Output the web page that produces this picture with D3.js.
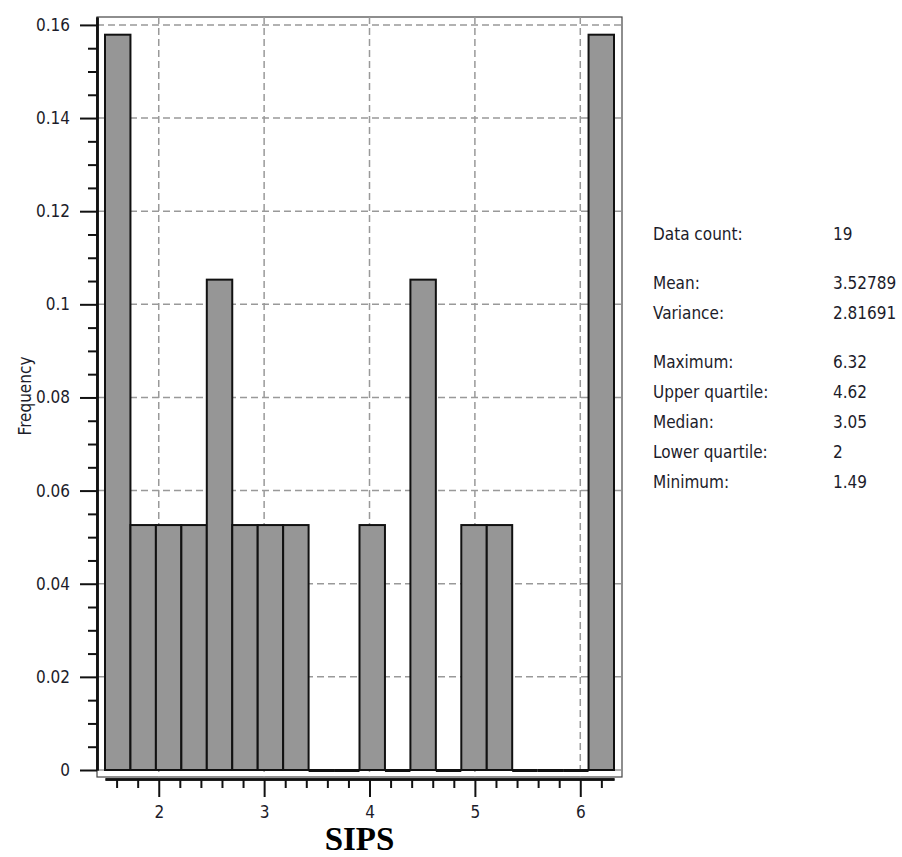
<!DOCTYPE html>
<html>
<head>
<meta charset="utf-8">
<script src="https://cdn.jsdelivr.net/npm/d3@7"></script>
<style>
  body { margin: 0; background: #fff; }
  .chart text { font-family: "DejaVu Sans Condensed", "DejaVu Sans", sans-serif; font-stretch: condensed; fill: #1c1c2a; }
  .axis path, .axis line { stroke: #111; }
</style>
</head>
<body>
<div class="chart"></div>
<script>
'use strict';
// Histogram data: 20 bins between min and max
var dataMin = 1.49;
var dataMax = 6.32;
var binCount = 20;
var frequencies = [0.1579, 0.0526, 0.0526, 0.0526, 0.1053, 0.0526, 0.0526, 0.0526, 0, 0,
                   0.0526, 0, 0.1053, 0, 0.0526, 0.0526, 0, 0, 0, 0.1579];

// Axis ticks
var xTicks = [2, 3, 4, 5, 6];
var xMinorTicks = [1.6, 1.8, 2.2, 2.4, 2.6, 2.8, 3.2, 3.4, 3.6, 3.8, 4.2, 4.4, 4.6, 4.8, 5.2, 5.4, 5.6, 5.8, 6.2];
var yTicks = [0, 0.02, 0.04, 0.06, 0.08, 0.1, 0.12, 0.14, 0.16];
var yTickLabels = ['0', '0.02', '0.04', '0.06', '0.08', '0.1', '0.12', '0.14', '0.16'];

// Summary statistics
var statLabels = ['Data count:', '', 'Mean:', 'Variance:', '', 'Maximum:', 'Upper quartile:', 'Median:', 'Lower quartile:', 'Minimum:'];
var statValues = ['19', '', '3.52789', '2.81691', '', '6.32', '4.62', '3.05', '2', '1.49'];

var w = 902, h = 857;
var box = {left: 97, top: 17, right: 622, bottom: 777};

var svg = d3.select('.chart').append('svg')
  .attr('width', w)
  .attr('height', h);

var x = d3.scaleLinear().domain([dataMin, dataMax]).range([105, 614]);
var y = d3.scaleLinear().domain([0, 0.1617]).range([770, box.top]);

var binWidth = (dataMax - dataMin) / binCount;
var bins = frequencies.map(function(f, i) {
  return {x0: dataMin + i * binWidth, x1: dataMin + (i + 1) * binWidth, f: f};
});

// plot frame
svg.append('rect')
  .attr('x', box.left).attr('y', box.top)
  .attr('width', box.right - box.left).attr('height', box.bottom - box.top)
  .attr('fill', 'none').attr('stroke', '#444').attr('stroke-width', 1.2);

// grid
var grid = svg.append('g').attr('stroke', '#999').attr('stroke-width', 1.5).attr('stroke-dasharray', '7,4');
grid.selectAll('.gy').data(yTicks).enter().append('line')
  .attr('x1', box.left).attr('x2', box.right)
  .attr('y1', function(d) { return y(d); }).attr('y2', function(d) { return y(d); });
grid.selectAll('.gx').data(xTicks).enter().append('line')
  .attr('y1', box.top).attr('y2', box.bottom)
  .attr('x1', function(d) { return x(d); }).attr('x2', function(d) { return x(d); });

// bars (empty bins show as a thick line on the baseline)
var barG = svg.append('g');
barG.selectAll('rect').data(bins.filter(function(d) { return d.f > 0; })).enter().append('rect')
  .attr('x', function(d) { return x(d.x0); })
  .attr('y', function(d) { return y(d.f); })
  .attr('width', function(d) { return x(d.x1) - x(d.x0); })
  .attr('height', function(d) { return y(0) - y(d.f); })
  .attr('fill', '#969696')
  .attr('stroke', '#111')
  .attr('stroke-width', 2);
barG.selectAll('line').data(bins.filter(function(d) { return d.f === 0; })).enter().append('line')
  .attr('x1', function(d) { return x(d.x0); })
  .attr('x2', function(d) { return x(d.x1); })
  .attr('y1', y(0) + 0.5).attr('y2', y(0) + 0.5)
  .attr('stroke', '#111')
  .attr('stroke-width', 3);

// y axis
svg.append('g').attr('class', 'axis')
  .attr('transform', 'translate(' + box.left + ',0)')
  .call(d3.axisLeft(y).tickValues(yTicks).tickSize(17).tickSizeOuter(0).tickPadding(10)
    .tickFormat(function(d, i) { return yTickLabels[i]; }));
svg.append('g').attr('class', 'axis')
  .attr('transform', 'translate(' + box.left + ',0)')
  .call(d3.axisLeft(y).tickValues(d3.range(0.005, 0.16, 0.005).filter(function(v) {
      return Math.abs(v / 0.02 - Math.round(v / 0.02)) > 0.01; }))
    .tickSize(9).tickSizeOuter(0).tickFormat(''));

// x axis
svg.append('g').attr('class', 'axis')
  .attr('transform', 'translate(0,779)')
  .call(d3.axisBottom(x).tickValues(xTicks).tickSize(18).tickSizeOuter(0).tickPadding(9)
    .tickFormat(d3.format('d')));
svg.append('g').attr('class', 'axis')
  .attr('transform', 'translate(0,779)')
  .call(d3.axisBottom(x).tickValues(xMinorTicks).tickSize(9).tickSizeOuter(0).tickFormat(''));
svg.selectAll('.axis path').attr('stroke-width', 2.5);
svg.selectAll('.axis line').attr('stroke-width', 2);
svg.selectAll('.axis text').style('font-size', '17px').attr('fill', '#1c1c2a');

// axis titles
svg.append('text')
  .attr('transform', 'translate(31,396) rotate(-90)')
  .attr('text-anchor', 'middle')
  .style('font-size', '17px')
  .text('Frequency');

svg.append('text')
  .attr('x', (box.left + box.right) / 2)
  .attr('y', 850)
  .attr('text-anchor', 'middle')
  .style('font-family', '"Liberation Serif", "Times New Roman", serif')
  .style('font-weight', 'bold')
  .style('font-stretch', 'normal')
  .style('font-size', '33px')
  .style('fill', '#000')
  .text('SIPS');

// statistics panel
var rowY = [234, 0, 283, 313, 0, 362, 392, 422, 452, 482];
var stats = svg.append('g').style('font-size', '17px');
statLabels.forEach(function(lbl, i) {
  if (!lbl) return;
  stats.append('text').attr('x', 653).attr('y', rowY[i]).attr('dy', '0.35em').text(lbl);
  stats.append('text').attr('x', 833).attr('y', rowY[i]).attr('dy', '0.35em').text(statValues[i]);
});
</script>
</body>
</html>
